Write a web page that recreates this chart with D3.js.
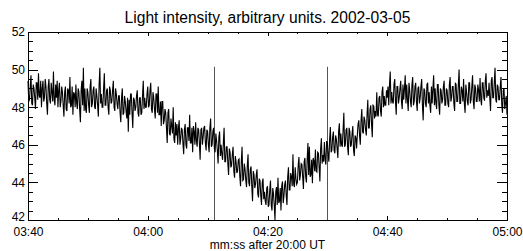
<!DOCTYPE html>
<html>
<head>
<meta charset="utf-8">
<script src="https://cdn.jsdelivr.net/npm/d3@7"></script>
<style>
  body { margin: 0; background: #fff; }
  svg { display: block; font-family: "Liberation Sans", Arial, Helvetica, sans-serif; }
</style>
</head>
<body>
<div id="chart"></div>
<script>
// light curve, sampled every 0.125 s starting 03:40 (seconds after 20:00 UT)
const startSec = 220
const stepSec = 0.125
const intensity = [
  49.4,48.3, 48.4,49.1, 49.7,48.2, 48.1,49.2, 49.0,48.5, 47.9,49.3, 49.3,48.4, 49.8,48.6, 48.5,49.4, 48.0,49.0, 49.4,48.3, 48.5,49.5, 49.1,48.2, 47.6,49.1, 49.5,48.4, 48.2,49.3, 48.8,48.3, 49.9,48.4, 48.1,49.2, 48.5,49.4,
  48.0,48.9, 49.3,48.0, 48.3,49.1, 48.8,48.1, 47.5,48.8, 49.1,47.9, 47.8,49.0, 48.9,48.2, 49.6,48.0, 48.1,49.1, 47.6,48.8, 48.7,48.0, 49.2,48.2, 47.9,49.0, 48.8,47.9, 47.2,48.9, 49.4,48.1, 50.1,47.8, 49.0,47.9, 47.7,49.0,
  48.8,48.1, 47.7,49.1, 49.5,48.0, 48.2,48.9, 49.1,48.0, 47.9,49.0, 48.6,48.1, 47.5,49.2, 50.1,48.2, 48.7,48.0, 48.0,49.0, 49.8,48.1, 48.1,48.9, 49.0,48.0, 47.6,49.1, 48.9,48.2, 48.3,48.9, 49.4,48.0, 47.8,49.0, 48.7,48.2,
  47.9,48.6, 48.6,47.7, 47.2,48.5, 49.0,47.6, 47.7,48.6, 48.3,47.8, 47.4,48.5, 46.7,48.4, 47.6,48.7, 48.7,47.7, 46.9,48.5, 48.4,47.8, 48.0,48.6, 48.9,47.7, 47.5,48.5, 48.5,47.6, 47.7,48.6, 49.4,47.9, 48.5,48.0, 48.0,48.7,
  49.1,48.0, 48.1,48.9, 49.3,47.9, 47.7,48.8, 48.5,47.9, 47.4,48.7, 48.7,47.7, 49.1,47.6, 47.6,48.3, 47.0,48.3, 48.3,47.1, 47.3,47.9, 47.7,46.9, 46.1,47.7, 47.9,46.6, 46.5,47.4, 47.0,46.6, 48.0,46.3, 46.1,47.2, 46.5,47.1,
  46.0,46.9, 47.3,46.0, 46.3,46.9, 46.8,46.1, 45.5,46.8, 47.1,46.0, 45.8,46.9, 46.9,46.2, 47.6,46.1, 46.1,46.9, 45.6,47.0, 46.7,46.0, 47.2,46.2, 45.9,46.9, 46.8,46.1, 45.2,46.8, 46.9,46.0, 46.4,46.9, 47.0,46.1, 45.7,46.8,
  46.7,46.0, 45.6,46.9, 47.4,45.9, 46.0,46.7, 46.9,45.8, 45.6,46.6, 46.2,45.7, 45.0,46.4, 46.7,45.4, 46.0,45.5, 45.2,46.1, 46.9,45.1, 45.1,45.9, 45.9,45.0, 44.4,45.8, 45.6,44.8, 44.9,45.5, 45.9,44.6, 44.25,45.4, 45.1,44.5,
  44.6,45.2, 45.25,44.3, 43.8,45.1, 45.9,44.1, 44.15,45.0, 44.7,44.1, 43.75,44.9, 45.5,44.0, 43.8,44.7, 44.85,43.8, 43.0,44.6, 44.4,43.7, 43.9,44.4, 44.7,43.4, 43.2,44.2, 44.1,43.3, 42.8,44.0, 44.2,43.1, 43.5,43.0, 42.8,43.7,
  43.8,42.7, 42.8,43.6, 44.1,42.8, 42.5,43.7, 43.4,42.8, 42.0,43.5, 43.75,42.8, 44.25,42.9, 43.0,43.7, 42.5,43.8, 44.05,42.9, 43.3,43.9, 44.1,43.3, 42.8,44.3, 44.8,43.6, 43.6,44.5, 44.3,43.8, 45.5,43.9, 43.75,44.8, 44.2,43.9,
  44.0,44.9, 45.35,44.1, 44.4,45.0, 44.95,44.3, 43.65,45.1, 45.3,44.3, 44.0,45.2, 46.1,44.4, 45.9,44.3, 44.4,45.2, 43.95,45.3, 45.15,44.6, 45.75,44.6, 44.55,45.6, 45.55,44.8, 44.05,45.8, 46.35,45.0, 45.45,45.1, 46.15,45.2, 44.95,46.2,
  46.1,45.5, 45.1,46.3, 46.95,45.6, 45.7,46.4, 46.7,45.7, 45.55,46.5, 46.3,45.8, 45.3,46.7, 47.15,45.9, 46.6,46.0, 45.9,46.8, 47.7,45.9, 46.0,46.8, 46.9,45.9, 45.45,46.9, 46.7,45.9, 46.0,46.6, 47.0,45.7, 45.4,46.5, 46.4,45.8,
  46.5,47.1, 47.3,46.5, 46.0,47.3, 47.9,46.7, 46.6,47.5, 47.3,46.8, 46.5,47.6, 48.4,46.9, 46.9,47.9, 48.1,47.1, 46.4,48.1, 48.05,47.4, 47.8,47.5, 48.8,47.6, 47.5,48.5, 48.6,47.8, 47.5,48.8, 49.1,48.0, 48.6,48.1, 48.1,48.9,
  48.5,49.1, 48.1,49.2, 49.9,48.2, 48.8,48.3, 48.2,49.2, 49.5,48.3, 47.6,49.1, 49.1,48.2, 48.5,49.0, 49.4,48.3, 47.9,49.2, 48.4,49.0, 49.7,48.2, 49.2,48.4, 47.8,49.3, 48.9,48.3, 48.0,49.2, 49.6,48.1, 48.3,49.1, 49.3,48.3,
  47.8,49.0, 49.1,48.2, 48.5,49.1, 49.5,48.1, 47.3,49.0, 48.9,48.2, 48.0,49.2, 49.3,48.2, 48.8,48.1, 47.7,49.1, 48.2,49.0, 49.7,48.1, 49.0,48.2, 47.9,49.2, 49.2,48.1, 47.6,49.0, 48.9,48.2, 48.4,49.1, 49.4,48.1, 48.1,49.0,
  48.9,48.2, 48.0,49.2, 49.6,48.3, 48.5,49.1, 49.1,48.2, 47.8,49.3, 49.2,48.3, 48.3,49.2, 50.0,48.2, 48.2,49.1, 48.9,48.3, 49.5,48.2, 47.7,49.2, 48.8,48.3, 48.1,49.3, 49.3,48.2, 48.4,49.1, 49.7,48.3, 47.9,49.2, 49.0,48.3,
  48.3,49.2, 48.9,48.3, 49.55,48.4, 48.1,49.3, 49.3,48.5, 48.35,49.4, 49.8,48.5, 48.9,48.6, 49.3,48.5, 47.8,49.4, 49.6,48.5, 48.5,49.3, 50.1,48.4, 48.25,49.2, 49.1,48.4, 48.4,49.1, 49.6,48.1, 47.7,48.9, 49.0,47.9, 48.2,48.6, 47.6
]

// vertical marker lines (seconds after 20:00) and how high they go
const markerTimes = [251, 270]
const markerTop = 50.15

const xMajorTicks = [220, 240, 260, 280, 300]
const yMajorTicks = [42, 44, 46, 48, 50, 52]

const titleText = 'Light intensity, arbitrary units. 2002-03-05'
const xLabelText = 'mm:ss after 20:00 UT'

const width = 523
const height = 251
const margin = {left: 28, right: 16, top: 32, bottom: 31}

const data = intensity.map((v, i) => ({t: startSec + i * stepSec, v: v}))

const x = d3.scaleLinear().domain([220, 300]).range([margin.left, width - margin.right])
const y = d3.scaleLinear().domain([42, 52]).range([height - margin.bottom, margin.top])

const fmt = s => {
    let m = Math.floor(s / 60)
    let ss = Math.round(s % 60)
    return String(m).padStart(2, '0') + ':' + String(ss).padStart(2, '0')
}

const svg = d3.select('#chart')
    .append('svg')
    .attr('width', width)
    .attr('height', height)

// minor tick positions
const xMinor = d3.range(220, 300.1, 5)
const yMinor = d3.range(42, 52.01, 0.5)

const x0 = x.range()[0], x1 = x.range()[1]
const y0 = y.range()[0], y1 = y.range()[1]

// bottom axis (labels) + minor ticks
svg.append('g')
    .attr('transform', `translate(0,${y0})`)
    .call(d3.axisBottom(x).tickValues(xMinor).tickSize(-2).tickSizeOuter(0).tickFormat(''))
svg.append('g')
    .attr('class', 'xlab')
    .attr('transform', `translate(0,${y0})`)
    .call(d3.axisBottom(x).tickValues(xMajorTicks).tickSize(-4).tickSizeOuter(0).tickPadding(7).tickFormat(fmt))

// top axis, no labels
svg.append('g')
    .attr('transform', `translate(0,${y1})`)
    .call(d3.axisTop(x).tickValues(xMinor).tickSize(-2).tickSizeOuter(0).tickFormat(''))
svg.append('g')
    .attr('transform', `translate(0,${y1})`)
    .call(d3.axisTop(x).tickValues(xMajorTicks).tickSize(-4).tickSizeOuter(0).tickFormat(''))

// left axis
svg.append('g')
    .attr('transform', `translate(${x0},0)`)
    .call(d3.axisLeft(y).tickValues(yMinor).tickSize(-5).tickSizeOuter(0).tickFormat(''))
svg.append('g')
    .attr('class', 'ylab')
    .attr('transform', `translate(${x0},0)`)
    .call(d3.axisLeft(y).tickValues(yMajorTicks).tickSize(-10).tickSizeOuter(0).tickPadding(3).tickFormat(d3.format('d')))

// right axis
svg.append('g')
    .attr('transform', `translate(${x1},0)`)
    .call(d3.axisRight(y).tickValues(yMinor).tickSize(-5).tickSizeOuter(0).tickFormat(''))
svg.append('g')
    .attr('transform', `translate(${x1},0)`)
    .call(d3.axisRight(y).tickValues(yMajorTicks).tickSize(-10).tickSizeOuter(0).tickFormat(''))

svg.selectAll('.domain').remove()
svg.selectAll('.tick line').attr('stroke', '#000').attr('shape-rendering', 'crispEdges')
svg.selectAll('.xlab text, .ylab text')
    .attr('fill', '#000')
    .style('font-size', '12px')
    .style('font-family', '"Liberation Sans", Arial, sans-serif')

// the bottom "42" sits a bit higher so it clears the time labels
svg.selectAll('.ylab .tick text')
    .filter(d => d === 42)
    .attr('y', -3)

// frame
svg.append('rect')
    .attr('x', x0 + 0.5)
    .attr('y', y1 + 0.5)
    .attr('width', x1 - x0)
    .attr('height', y0 - y1)
    .attr('fill', 'none')
    .attr('stroke', '#000')
    .attr('shape-rendering', 'crispEdges')

// markers
svg.append('g')
    .selectAll('line')
    .data(markerTimes)
    .join('line')
    .attr('x1', d => Math.round(x(d)) + 0.5)
    .attr('x2', d => Math.round(x(d)) + 0.5)
    .attr('y1', y(42))
    .attr('y2', y(markerTop))
    .attr('stroke', '#555')
    .attr('stroke-width', 1)

// the trace
const line = d3.line()
    .x(d => x(d.t))
    .y(d => y(d.v))

svg.append('path')
    .datum(data)
    .attr('d', line)
    .attr('fill', 'none')
    .attr('stroke', '#000')
    .attr('stroke-width', 1.1)

// title + x label
svg.append('text')
    .attr('x', (x0 + x1) / 2)
    .attr('y', 23)
    .attr('text-anchor', 'middle')
    .style('font-size', '15.6px')
    .text(titleText)

svg.append('text')
    .attr('x', (x0 + x1) / 2)
    .attr('y', 249)
    .attr('text-anchor', 'middle')
    .style('font-size', '12px')
    .text(xLabelText)
</script>
</body>
</html>
